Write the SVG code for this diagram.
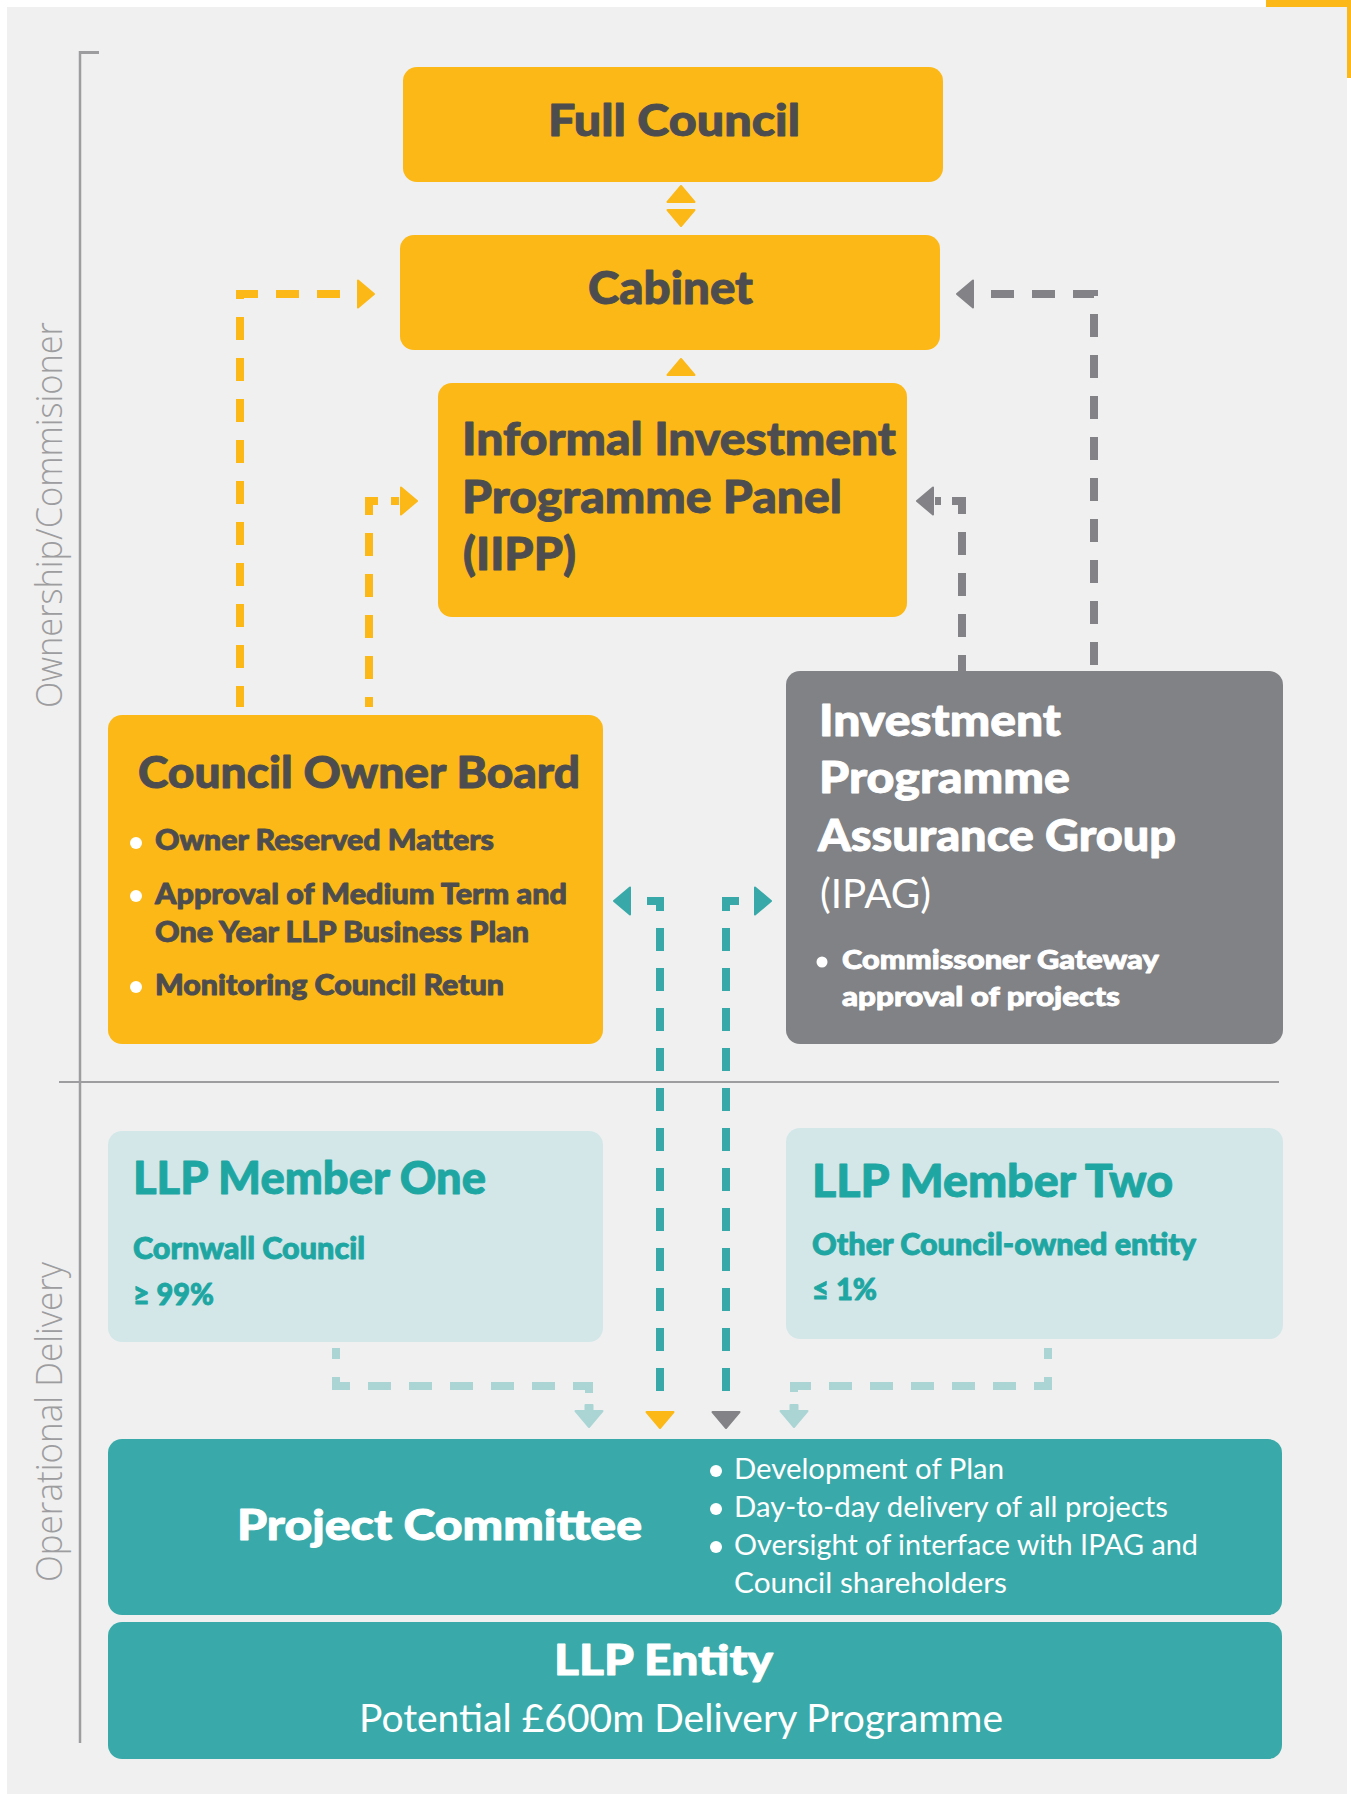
<svg xmlns="http://www.w3.org/2000/svg" xmlns:xlink="http://www.w3.org/1999/xlink" width="1351" height="1794" viewBox="0 0 1351 1794">
<style>
.bold{font-family:"Lato","Noto Sans","Liberation Sans",sans-serif;font-weight:900;stroke-width:0.9;stroke-linejoin:round}
.reg{font-family:"Lato","Noto Sans","Liberation Sans",sans-serif;font-weight:400;stroke-width:0}
.side{font-family:"Open Sans","Noto Sans","Liberation Sans",sans-serif;font-weight:300;font-size:37px;fill:#9d9d9f}
.dark{fill:#4d4d4f;stroke:#4d4d4f}
.white{fill:#ffffff;stroke:#ffffff}
.tealtxt{fill:#1ea6a3;stroke:#1ea6a3}
.dot{stroke:none}
.yb{fill:#fbb817}
.gb{fill:#818285}
.tb{fill:#39aaa9}
.lb{fill:#d3e7e8}
.dash{fill:none;stroke-width:8;stroke-dasharray:23 18}
.ys{stroke:#fbb817}
.gs{stroke:#838387}
.ts{stroke:#38a9a8;stroke-dasharray:23 17}
.ls{stroke:#aad5d4}
.ah{stroke-width:2;stroke-linejoin:round}
.ya{fill:#fbb817;stroke:#fbb817}
.ga{fill:#838387;stroke:#838387}
.ta{fill:#38a9a8;stroke:#38a9a8}
.la{fill:#aad5d4;stroke:#aad5d4}
.rule{stroke:#9d9d9f;fill:none}
</style>
<defs>
<path id="tri" d="M-13.5,0 H13.5 L0,16 Z"/>
<path id="stemtri" d="M-3.5,-6 H3.5 V0 H13.5 L0,16 L-13.5,0 H-3.5 Z"/>
</defs>

<rect x="0" y="0" width="1351" height="1794" fill="#ffffff"/>
<rect x="7" y="7" width="1340" height="1787" fill="#f0f0f0"/>
<rect x="1266" y="0" width="85" height="7" fill="#fbb817"/>
<rect x="1347" y="0" width="4" height="78" fill="#fbb817"/>

<g id="frame">
<path class="rule" d="M80 51 V1743" stroke-width="2.5"/>
<path class="rule" d="M79 52.5 H99" stroke-width="3"/>
<path class="rule" d="M59 1082 H1279" stroke-width="2"/>
<text class="side" transform="translate(62,708) rotate(-90)" textLength="386" lengthAdjust="spacingAndGlyphs">Ownership/Commisioner</text>
<text class="side" transform="translate(62,1582) rotate(-90)" textLength="320" lengthAdjust="spacingAndGlyphs">Operational Delivery</text>
</g>

<g id="connectors">
<path class="dash ys" d="M358 294 H240 V707" stroke-dashoffset="23"/>
<path class="dash ys" d="M391 501 H399"/>
<path class="dash ys" d="M378 501 H369 V707"/>
<path class="dash gs" d="M973 294 H1094 V671" stroke-dashoffset="23"/>
<path class="dash gs" d="M935 501 H941"/>
<path class="dash gs" d="M952 501 H962 V671"/>
<path class="dash ts" d="M647 901 H660 V1397"/>
<path class="dash ts" d="M739 901 H726 V1397"/>
<path class="dash ls" d="M336 1348 V1386 H589 V1396" stroke-dashoffset="12"/>
<path class="dash ls" d="M1048 1348 V1386 H794 V1396" stroke-dashoffset="12"/>
<use href="#tri" class="ah ya" transform="translate(681,202) rotate(180)"/>
<use href="#tri" class="ah ya" transform="translate(681,210)"/>
<use href="#tri" class="ah ya" transform="translate(681,375) rotate(180)"/>
<use href="#tri" class="ah ya" transform="translate(358,294) rotate(-90)"/>
<use href="#tri" class="ah ya" transform="translate(401,501) rotate(-90)"/>
<use href="#tri" class="ah ga" transform="translate(973,294) rotate(90)"/>
<use href="#tri" class="ah ga" transform="translate(933,501) rotate(90)"/>
<use href="#tri" class="ah ta" transform="translate(630,901) rotate(90)"/>
<use href="#tri" class="ah ta" transform="translate(755,901) rotate(-90)"/>
<use href="#tri" class="ah ya" transform="translate(660,1412)"/>
<use href="#tri" class="ah ga" transform="translate(726,1412)"/>
<use href="#stemtri" class="ah la" transform="translate(589,1411)"/>
<use href="#stemtri" class="ah la" transform="translate(794,1411)"/>
</g>

<g id="full-council">
<rect class="yb" x="403" y="67" width="540" height="115" rx="14"/>
<text class="bold dark" x="548" y="136" font-size="43" textLength="252" lengthAdjust="spacingAndGlyphs">Full Council</text>
</g>

<g id="cabinet">
<rect class="yb" x="400" y="235" width="540" height="115" rx="14"/>
<text class="bold dark" x="588" y="304" font-size="45" textLength="165" lengthAdjust="spacingAndGlyphs">Cabinet</text>
</g>

<g id="iipp">
<rect class="yb" x="438" y="383" width="469" height="234" rx="14"/>
<text class="bold dark" font-size="45">
<tspan x="462" y="455" textLength="434" lengthAdjust="spacingAndGlyphs">Informal Investment</tspan>
<tspan x="462" y="513" textLength="380" lengthAdjust="spacingAndGlyphs">Programme Panel</tspan>
<tspan x="463" y="570" textLength="113" lengthAdjust="spacingAndGlyphs">(IIPP)</tspan>
</text>
</g>

<g id="council-owner-board">
<rect class="yb" x="108" y="715" width="495" height="329" rx="14"/>
<text class="bold dark" x="138" y="788" font-size="43" textLength="442" lengthAdjust="spacingAndGlyphs">Council Owner Board</text>
<circle class="white dot" cx="136" cy="843" r="6"/>
<circle class="white dot" cx="136" cy="896" r="6"/>
<circle class="white dot" cx="136" cy="987" r="6"/>
<text class="bold dark" font-size="28">
<tspan x="155" y="850" textLength="339" lengthAdjust="spacingAndGlyphs">Owner Reserved Matters</tspan>
<tspan x="155" y="904" textLength="412" lengthAdjust="spacingAndGlyphs">Approval of Medium Term and</tspan>
<tspan x="155" y="942" textLength="374" lengthAdjust="spacingAndGlyphs">One Year LLP Business Plan</tspan>
<tspan x="155" y="995" textLength="349" lengthAdjust="spacingAndGlyphs">Monitoring Council Retun</tspan>
</text>
</g>

<g id="ipag">
<rect class="gb" x="786" y="671" width="497" height="373" rx="14"/>
<text class="bold white" font-size="43">
<tspan x="819" y="736" textLength="242" lengthAdjust="spacingAndGlyphs">Investment</tspan>
<tspan x="819" y="793" textLength="251" lengthAdjust="spacingAndGlyphs">Programme</tspan>
<tspan x="818" y="851" textLength="358" lengthAdjust="spacingAndGlyphs">Assurance Group</tspan>
</text>
<text class="reg white" x="820" y="908" font-size="40" font-weight="300" textLength="111" lengthAdjust="spacingAndGlyphs">(IPAG)</text>
<circle class="white dot" cx="822" cy="962" r="5.5"/>
<text class="bold white" font-size="27">
<tspan x="842" y="969" textLength="316" lengthAdjust="spacingAndGlyphs">Commissoner Gateway</tspan>
<tspan x="842" y="1006" textLength="278" lengthAdjust="spacingAndGlyphs">approval of projects</tspan>
</text>
</g>

<g id="llp-member-one">
<rect class="lb" x="108" y="1131" width="495" height="211" rx="14"/>
<text class="bold tealtxt" x="133" y="1194" font-size="45" textLength="353" lengthAdjust="spacingAndGlyphs">LLP Member One</text>
<text class="bold tealtxt" x="133" y="1259" font-size="30" textLength="232" lengthAdjust="spacingAndGlyphs">Cornwall Council</text>
<text class="bold tealtxt" x="133" y="1305" font-size="30" textLength="81" lengthAdjust="spacingAndGlyphs">≥ 99%</text>
</g>

<g id="llp-member-two">
<rect class="lb" x="786" y="1128" width="497" height="211" rx="14"/>
<text class="bold tealtxt" x="812" y="1197" font-size="45" textLength="361" lengthAdjust="spacingAndGlyphs">LLP Member Two</text>
<text class="bold tealtxt" x="812" y="1255" font-size="30" textLength="384" lengthAdjust="spacingAndGlyphs">Other Council-owned entity</text>
<text class="bold tealtxt" x="812" y="1300" font-size="30" textLength="65" lengthAdjust="spacingAndGlyphs">≤ 1%</text>
</g>

<g id="project-committee">
<rect class="tb" x="108" y="1439" width="1174" height="176" rx="14"/>
<text class="bold white" x="237" y="1540" font-size="42" textLength="405" lengthAdjust="spacingAndGlyphs">Project Committee</text>
<circle class="white dot" cx="716" cy="1471" r="6"/>
<circle class="white dot" cx="716" cy="1509" r="6"/>
<circle class="white dot" cx="716" cy="1547" r="6"/>
<text class="reg white" font-size="29">
<tspan x="734" y="1479" textLength="270" lengthAdjust="spacingAndGlyphs">Development of Plan</tspan>
<tspan x="734" y="1517" textLength="434" lengthAdjust="spacingAndGlyphs">Day-to-day delivery of all projects</tspan>
<tspan x="734" y="1555" textLength="464" lengthAdjust="spacingAndGlyphs">Oversight of interface with IPAG and</tspan>
<tspan x="734" y="1593" textLength="273" lengthAdjust="spacingAndGlyphs">Council shareholders</tspan>
</text>
</g>

<g id="llp-entity">
<rect class="tb" x="108" y="1622" width="1174" height="137" rx="14"/>
<text class="bold white" x="554" y="1675" font-size="42" textLength="219" lengthAdjust="spacingAndGlyphs">LLP Entity</text>
<text class="reg white" x="359" y="1732" font-size="39" textLength="644" lengthAdjust="spacingAndGlyphs">Potential £600m Delivery Programme</text>
</g>
</svg>
